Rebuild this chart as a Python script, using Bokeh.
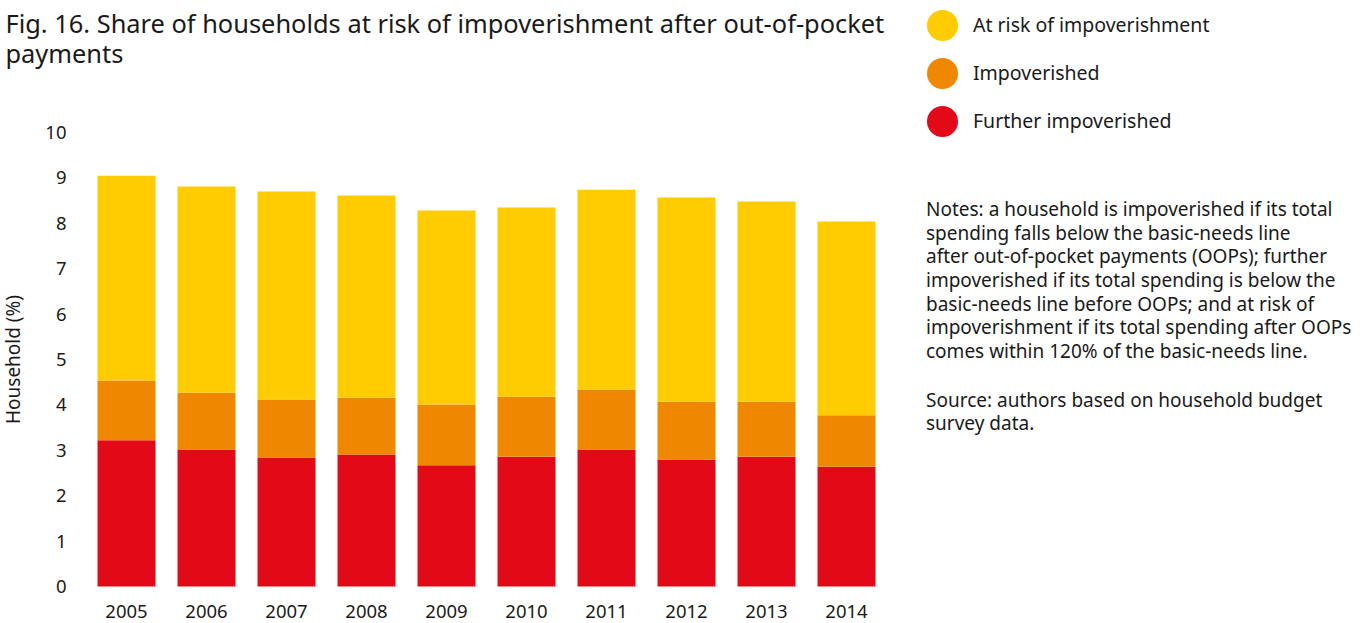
from bokeh.plotting import figure
from bokeh.models import Range1d, Label, ColumnDataSource, FixedTicker
from bokeh.embed import file_html
from bokeh.resources import INLINE

# ---------------- data ----------------
years = ["2005", "2006", "2007", "2008", "2009", "2010", "2011", "2012", "2013", "2014"]
further_impoverished = [3.22, 3.02, 2.84, 2.91, 2.67, 2.86, 3.02, 2.80, 2.86, 2.64]
impoverished = [1.32, 1.25, 1.28, 1.25, 1.34, 1.32, 1.32, 1.27, 1.21, 1.13]
at_risk = [4.51, 4.54, 4.58, 4.45, 4.27, 4.17, 4.40, 4.50, 4.41, 4.27]
series_names = ["Further impoverished", "Impoverished", "At risk of impoverishment"]
series_colors = ["#E30A17", "#EF8800", "#FECC00"]
y_ticks = [0, 1, 2, 3, 4, 5, 6, 7, 8, 9, 10]

title_lines = ["Fig. 16. Share of households at risk of impoverishment after out-of-pocket",
               "payments"]
legend_labels = ["At risk of impoverishment", "Impoverished", "Further impoverished"]
legend_colors = ["#FECC00", "#EF8800", "#E30A17"]
note_lines = [
    "Notes: a household is impoverished if its total",
    "spending falls below the basic-needs line",
    "after out-of-pocket payments (OOPs); further",
    "impoverished if its total spending is below the",
    "basic-needs line before OOPs; and at risk of",
    "impoverishment if its total spending after OOPs",
    "comes within 120% of the basic-needs line.",
]
source_lines = ["Source: authors based on household budget", "survey data."]

# ---------------- layout constants (pixels) ----------------
FONT = "Noto Sans"
TXT = "#1a1a1a"
W, H = 1365, 623
PX_PER_CAT = 80.0       # horizontal pixels per category
PX_PER_UNIT = 45.4      # vertical pixels per percentage point
FIRST_BAR_X = 126.0     # canvas x of first bar centre
ZERO_Y = 586.0          # canvas y (from top) of value 0

x0 = -FIRST_BAR_X / PX_PER_CAT
x1 = x0 + W / PX_PER_CAT
y0 = -(H - ZERO_Y) / PX_PER_UNIT
y1 = ZERO_Y / PX_PER_UNIT


def dx(px):  # canvas px -> data x
    return x0 + px / PX_PER_CAT


def dy(py):  # canvas px from top -> data y
    return y1 - py / PX_PER_UNIT


# ---------------- figure ----------------
p = figure(width=W, height=H, x_range=Range1d(x0, x1), y_range=Range1d(y0, y1),
           output_backend="svg", toolbar_location=None,
           min_border=0, min_border_left=0, min_border_right=0,
           min_border_top=0, min_border_bottom=0)
p.title.text = ""
p.title.visible = False
p.outline_line_color = None
p.xgrid.grid_line_color = None
p.ygrid.grid_line_color = None
p.background_fill_color = "white"
p.border_fill_color = "white"

idx = list(range(len(years)))
src = ColumnDataSource(dict(idx=idx,
                            **{series_names[0]: further_impoverished,
                               series_names[1]: impoverished,
                               series_names[2]: at_risk}))
p.vbar_stack(series_names, x="idx", width=0.725, color=series_colors,
             line_color=None, source=src)

# axes drawn at fixed positions inside the (full-canvas) frame
xa = p.xaxis[0]
ya = p.yaxis[0]
xa.fixed_location = 0
ya.fixed_location = -0.5
xa.ticker = FixedTicker(ticks=idx)
xa.major_label_overrides = {i: y for i, y in enumerate(years)}
ya.ticker = FixedTicker(ticks=y_ticks)
ya.bounds = (y_ticks[0], y_ticks[-1])
xa.bounds = (-0.5, len(years) - 0.5)
for ax in (xa, ya):
    ax.axis_line_color = None
    ax.major_tick_line_color = None
    ax.minor_tick_line_color = None
    ax.major_tick_out = 0
    ax.major_tick_in = 0
    ax.minor_tick_out = 0
    ax.minor_tick_in = 0
    ax.major_label_text_font = FONT
    ax.major_label_text_font_size = "18.5px"
    ax.major_label_text_color = TXT
ya.major_label_standoff = 20
xa.major_label_standoff = 18
ya.axis_label = "Household (%)"
ya.axis_label_text_font = FONT
ya.axis_label_text_font_size = "19px"
ya.axis_label_text_font_style = "normal"
ya.axis_label_text_color = TXT
ya.axis_label_standoff = 16


def add_text(txt, fx, fy_base, fs):
    # baseline position corrected for the renderer's vertical text offset
    p.add_layout(Label(x=fx, y=H - fy_base + 0.42 * fs, x_units="screen", y_units="screen",
                       text=txt, text_font=FONT, text_font_size=f"{fs}px",
                       text_color=TXT, text_baseline="alphabetic", text_align="left"))


# title
for i, t in enumerate(title_lines):
    add_text(t, 5, 33 + 30 * i, 25.4)

# legend
leg_cy = [25, 73, 121]
p.scatter(x=[dx(942)] * 3, y=[dy(c) for c in leg_cy], size=31, marker="circle",
          fill_color=legend_colors, line_color=None)
for t, c in zip(legend_labels, leg_cy):
    add_text(t, 972.5, c + 7.5, 19.5)

# notes
for i, t in enumerate(note_lines):
    add_text(t, 925.5, 216.7 + 23.6 * i, 19)
for i, t in enumerate(source_lines):
    add_text(t, 925.5, 407.3 + 23.0 * i, 19)

open("out.html", "w").write(file_html(p, INLINE))
